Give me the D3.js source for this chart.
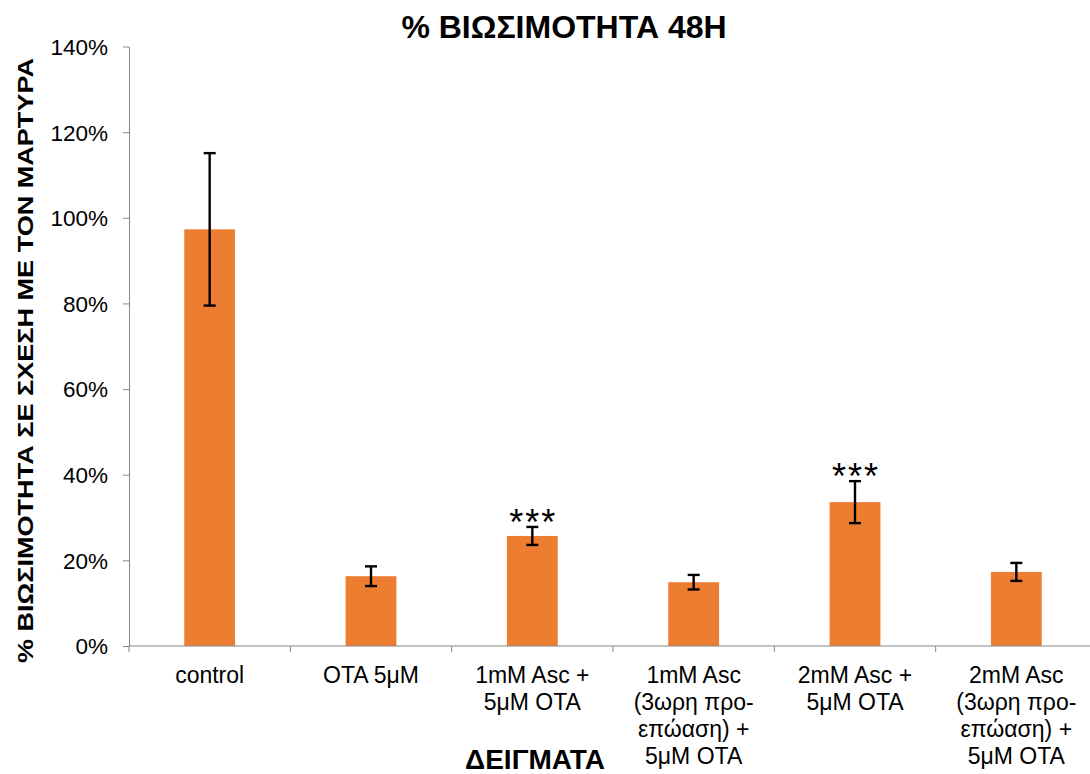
<!DOCTYPE html>
<html><head><meta charset="utf-8">
<script src="https://cdn.jsdelivr.net/npm/d3@7"></script>
<style>body{margin:0;background:#fff}svg{display:block;font-family:"Liberation Sans",Arial,sans-serif}</style>
</head><body>
<svg id="c" width="1090" height="774"></svg>
<script>
const categories = [
  ["control"],
  ["OTA 5μM"],
  ["1mM Asc +", "5μM OTA"],
  ["1mM Asc", "(3ωρη προ-", "επώαση) +", "5μM OTA"],
  ["2mM Asc +", "5μM OTA"],
  ["2mM Asc", "(3ωρη προ-", "επώαση) +", "5μM OTA"]
];
const values = [97.3, 16.3, 25.7, 14.9, 33.6, 17.3];
const errors = [17.8, 2.3, 2.1, 1.7, 4.9, 2.1];
const signif = ["", "", "***", "", "***", ""];
const yTicks = [0, 20, 40, 60, 80, 100, 120, 140];

(function () {
const svg = d3.select("#c");
const mLeft = 129, mRight = 1097, mTop = 46.5, mBottom = 646;
const idx = categories.map((d, i) => i);
const x = d3.scaleBand().domain(idx).range([mLeft, mRight]).paddingInner(0.685).paddingOuter(0.3425);
const xb = d3.scaleBand().domain(idx).range([mLeft, mRight]);
const y = d3.scaleLinear().domain([0, 140]).range([mBottom, mTop]);

// bars
svg.selectAll("rect.bar").data(values).join("rect")
  .attr("x", (d, i) => x(i)).attr("width", x.bandwidth())
  .attr("y", d => y(d)).attr("height", d => y(0) - y(d))
  .attr("fill", "#ED7D31");

// axes
const ya = svg.append("g").attr("transform", `translate(${mLeft},0)`)
  .call(d3.axisLeft(y).tickValues(yTicks).tickFormat(d => d + "%").tickSize(6).tickSizeOuter(0));
ya.select(".domain").attr("stroke", "#868686");
ya.selectAll(".tick line").attr("stroke", "#868686");
ya.selectAll(".tick text").attr("font-size", 22.5).attr("fill", "#000").attr("x", -21).attr("dy", "0.35em");

const xa = svg.append("g");
xa.append("line").attr("x1", mLeft).attr("x2", 1090).attr("y1", mBottom).attr("y2", mBottom).attr("stroke", "#868686");
xa.selectAll("line.t").data(d3.range(7)).join("line")
  .attr("x1", i => mLeft + i * xb.step()).attr("x2", i => mLeft + i * xb.step())
  .attr("y1", mBottom).attr("y2", mBottom + 6).attr("stroke", "#868686");

// category labels
categories.forEach((lines, i) => {
  const t = svg.append("text").attr("text-anchor", "middle").attr("font-size", 23).attr("fill", "#000");
  lines.forEach((s, j) => t.append("tspan").attr("x", xb(i) + xb.bandwidth() / 2).attr("y", 683 + j * 27).text(s));
});

// error bars
const eg = svg.append("g").attr("stroke", "#000").attr("stroke-width", 2.4);
values.forEach((v, i) => {
  const cx = x(i) + x.bandwidth() / 2;
  eg.append("line").attr("x1", cx).attr("x2", cx).attr("y1", y(v + errors[i])).attr("y2", y(v - errors[i]));
  eg.append("line").attr("x1", cx - 6).attr("x2", cx + 6).attr("y1", y(v + errors[i])).attr("y2", y(v + errors[i]));
  eg.append("line").attr("x1", cx - 6).attr("x2", cx + 6).attr("y1", y(v - errors[i])).attr("y2", y(v - errors[i]));
  if (signif[i]) {
    svg.append("text").attr("x", cx + 1).attr("y", y(v + errors[i]) + 8).attr("text-anchor", "middle")
      .attr("font-size", 36).attr("letter-spacing", 2).attr("fill", "#000").text(signif[i]);
  }
});

// titles
svg.append("text").attr("x", 564).attr("y", 38).attr("text-anchor", "middle")
  .attr("font-size", 32).attr("font-weight", "bold").text("% ΒΙΩΣΙΜΟΤΗΤΑ 48H");
svg.append("text").attr("transform", "translate(33,360.5) rotate(-90)").attr("text-anchor", "middle")
  .attr("font-size", 22).attr("font-weight", "bold")
  .attr("textLength", 605).attr("lengthAdjust", "spacingAndGlyphs")
  .text("% ΒΙΩΣΙΜΟΤΗΤΑ ΣΕ ΣΧΕΣΗ ΜΕ ΤΟΝ ΜΑΡΤΥΡΑ");
svg.append("text").attr("x", 535).attr("y", 769).attr("text-anchor", "middle")
  .attr("font-size", 28).attr("font-weight", "bold").text("ΔΕΙΓΜΑΤΑ");
})();
</script>
</body></html>
